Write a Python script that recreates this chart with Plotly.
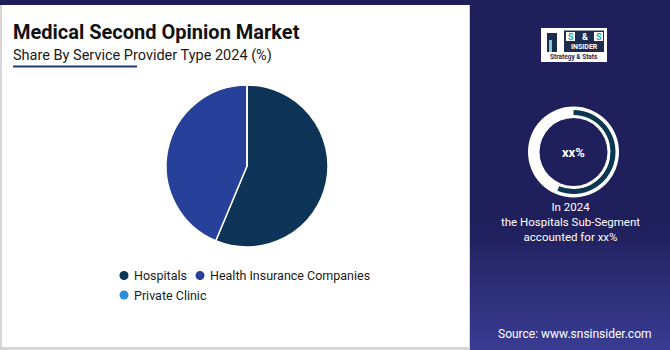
import plotly.graph_objects as go
import numpy as np

# ---- data ----
categories = ["Hospitals", "Health Insurance Companies", "Private Clinic"]
shares = [56.3, 43.7, 0.0]
colors = ["#0d3356", "#27409a", "#2b8fd6"]
highlight_share = [56.3, 43.7]
title_text = "Medical Second Opinion Market"
subtitle_text = "Share By Service Provider Type 2024 (%)"
side_lines = ["In 2024", "the Hospitals Sub-Segment", "accounted for xx%"]
center_label = "xx%"
source_text = "Source: www.snsinsider.com"

W, H = 670, 350
def px(x): return x / W
def py(y): return 1 - y / H

fig = go.Figure()

# main pie
cx, cy, r = 247, 166, 81
fig.add_trace(go.Pie(
    labels=categories, values=shares, sort=False, direction="clockwise", rotation=0,
    marker=dict(colors=colors, line=dict(color="white", width=1.5)),
    textinfo="none", hoverinfo="label+percent", showlegend=False,
    domain=dict(x=[px(cx - r), px(cx + r)], y=[py(cy + r), py(cy - r)]),
))

# right donut ring (white)
dx, dy, R1 = 573.5, 152, 45.5
fig.add_trace(go.Pie(
    values=[1], marker=dict(colors=["white"], line=dict(width=0)), hole=34 / 45.5,
    textinfo="none", hoverinfo="skip", showlegend=False, sort=False,
    domain=dict(x=[px(dx - R1), px(dx + R1)], y=[py(dy + R1), py(dy - R1)]),
))
R2 = 42
fig.add_trace(go.Pie(
    values=highlight_share, marker=dict(colors=["#0b3650", "rgba(0,0,0,0)"], line=dict(width=0)),
    hole=37 / 42, direction="clockwise", rotation=0, sort=False,
    textinfo="none", hoverinfo="skip", showlegend=False,
    domain=dict(x=[px(dx - R2), px(dx + R2)], y=[py(dy + R2), py(dy - R2)]),
))

shapes = []
def rect(x0, y0, x1, y1, color, layer="below"):
    shapes.append(dict(type="rect", xref="paper", yref="paper",
                       x0=px(x0), x1=px(x1), y0=py(y1), y1=py(y0),
                       fillcolor=color, line=dict(width=0), layer=layer))

# backgrounds
rect(0, 0, W, H, "#d6d6d6")
rect(2, 0, 469, 347, "white")
rect(0, 0, W, 5, "#1e1e5a")
rect(470, 0, W, H, "#1f1f5b")
n = 24
top, bot = 225, 350
c0 = np.array([0x1f, 0x1f, 0x5b]); c1 = np.array([0x3a, 0x3c, 0x92])
for i in range(n):
    t = (i + 1) / n
    c = (c0 * (1 - t) + c1 * t).astype(int)
    y0 = top + (bot - top) * i / n
    y1 = top + (bot - top) * (i + 1) / n + 0.5
    rect(470, y0, W, y1, "rgb(%d,%d,%d)" % tuple(c))

# underline under subtitle
shapes.append(dict(type="line", xref="paper", yref="paper", x0=px(13), x1=px(137),
                   y0=py(66.5), y1=py(66.5), line=dict(color="#1e3a6e", width=2)))

# logo
rect(541, 28, 607, 62, "white", layer="above")
rect(564, 30.5, 604, 52, "#1d2b4f", layer="above")
rect(566, 32, 575, 41, "white", layer="above")
rect(594, 32, 603, 41, "white", layer="above")
rect(547, 33, 557, 52, "#1d2b4f", layer="above")
rect(549, 40, 552, 52, "#7fd1d1", layer="above")

# legend markers
legend_pos = [(124, 275.5), (200, 275.5), (124, 295)]
for (lx, ly), col in zip(legend_pos, colors):
    shapes.append(dict(type="circle", xref="paper", yref="paper",
                       x0=px(lx - 4.5), x1=px(lx + 4.5), y0=py(ly + 4.5), y1=py(ly - 4.5),
                       fillcolor=col, line=dict(width=0)))

ann = []
def text(x, y, s, size, color, bold=False, xanchor="left", family="Roboto"):
    ann.append(dict(x=px(x), y=py(y), xref="paper", yref="paper", text=("<b>%s</b>" % s) if bold else s,
                    showarrow=False, xanchor=xanchor, yanchor="middle", borderpad=0,
                    font=dict(size=size, color=color, family=family)))

text(12, 32, title_text, 20, "#111111", bold=True)
text(12, 55, subtitle_text, 14.5, "#1a1a1a")
for (lx, ly), lab in zip(legend_pos, categories):
    text(lx + 9, ly, lab, 12.5, "#1a1a1a")

text(dx, dy, center_label, 13, "white", bold=True, xanchor="center")
text(570, 222, "<br>".join(side_lines), 11.5, "white", xanchor="center")
text(575, 334, source_text, 12, "white", xanchor="center")

# logo texts
text(570.5, 37, "S", 9, "#2aa6a6", bold=True, xanchor="center")
text(584.5, 36.5, "&", 9, "white", bold=True, xanchor="center")
text(598.5, 37, "S", 9, "#2aa6a6", bold=True, xanchor="center")
text(584, 47, "INSIDER", 7, "white", bold=True, xanchor="center")
text(574, 57.5, "Strategy & Stats", 6.5, "#1d2b4f", bold=True, xanchor="center")

fig.update_layout(width=W, height=H, margin=dict(l=0, r=0, t=0, b=0),
                  paper_bgcolor="white", plot_bgcolor="white",
                  shapes=shapes, annotations=ann, showlegend=False)
fig.write_html("out.html")
